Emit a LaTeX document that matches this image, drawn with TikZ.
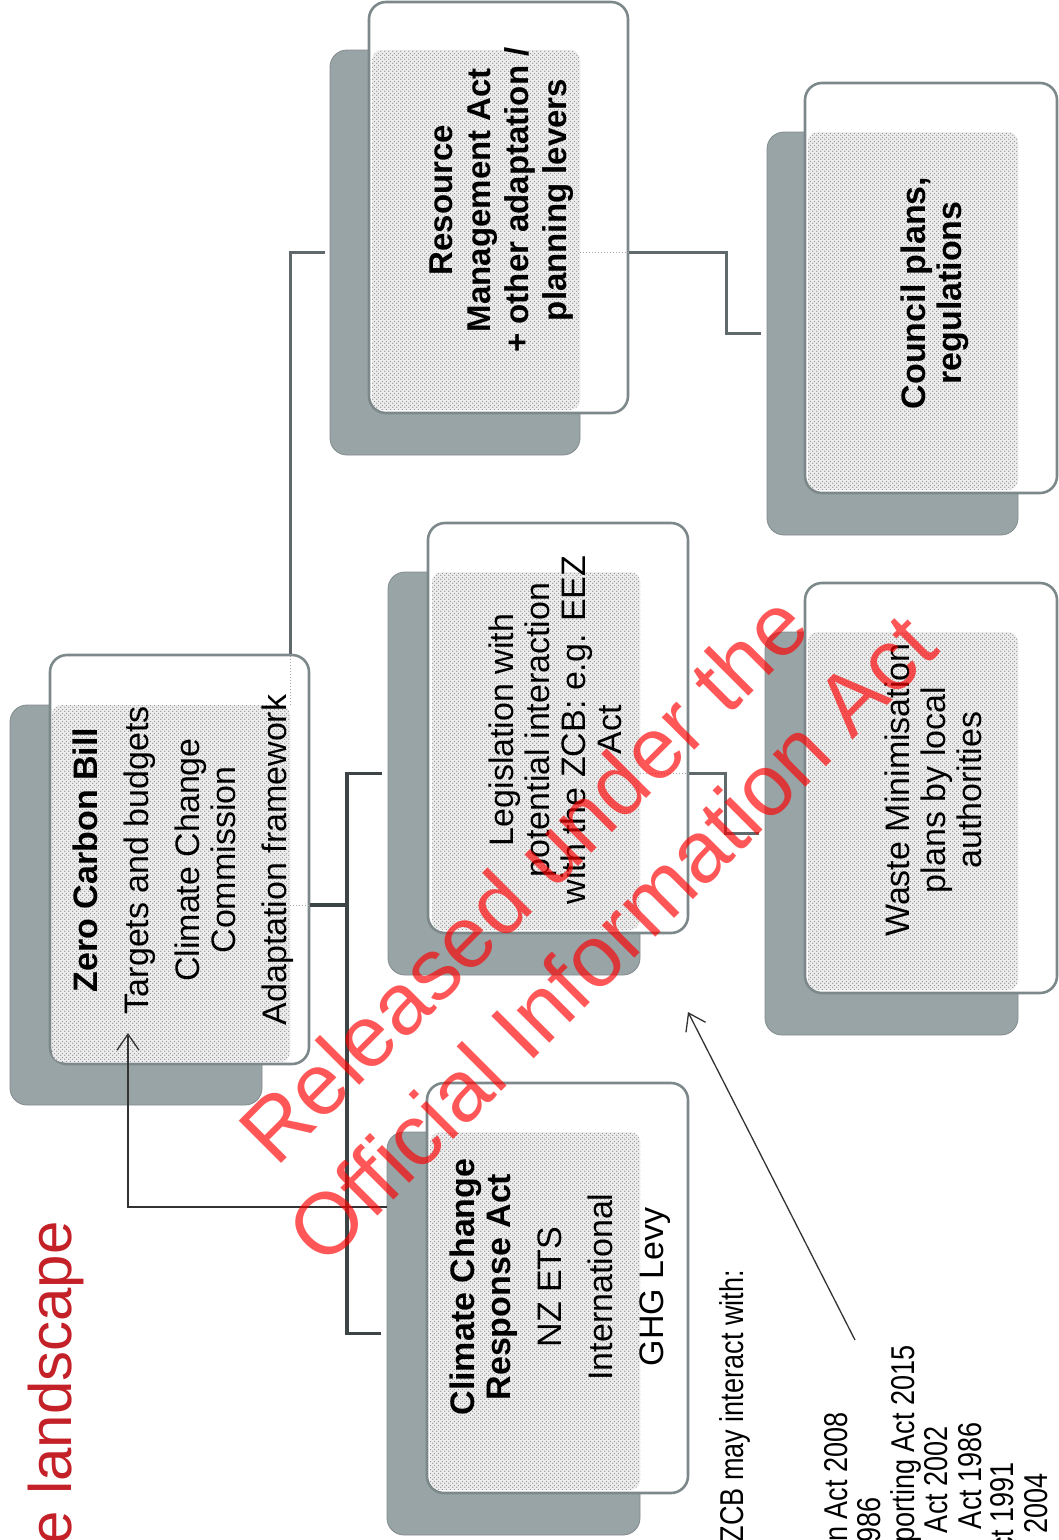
\documentclass[tikz,border=0pt]{standalone}
\usepackage{fontspec}
\setmainfont{Liberation Sans}
\newfontfamily\listfont[FakeStretch=0.82]{Liberation Sans}
\usetikzlibrary{arrows.meta,patterns,calc}
\pgfdeclarepatternformonly{finedots}{\pgfpointorigin}{\pgfqpoint{4pt}{4pt}}{\pgfqpoint{4pt}{4pt}}{%
  \pgfpathcircle{\pgfqpoint{1pt}{1pt}}{0.8pt}%
  \pgfpathcircle{\pgfqpoint{3pt}{3pt}}{0.8pt}%
  \pgfusepath{fill}}
\definecolor{shadowgray}{RGB}{152,164,166}
\definecolor{cardborder}{RGB}{125,136,138}
\definecolor{connGray}{RGB}{95,105,107}
\definecolor{busGray}{RGB}{60,68,70}
\definecolor{titleRed}{RGB}{196,32,40}
\begin{document}
\begin{tikzpicture}[x=1pt,y=-1pt,
  shadowbox/.style={fill=shadowgray, draw=shadowgray!85!black, line width=0.8pt, rounded corners=17pt, inner sep=0pt},
  cardbox/.style={fill=white, draw=cardborder, line width=2.6pt, rounded corners=17pt, inner sep=0pt},
  dotbox/.style={preaction={fill=gray!14}, pattern=finedots, pattern color=gray!90, rounded corners=10pt, inner sep=0pt},
  cardtext/.style={rotate=90, align=center, font=\fontsize{34}{36}\selectfont, text=black, inner sep=0pt},
  listtext/.style={rotate=90, anchor=base east, font=\listfont\fontsize{33}{34}\selectfont, text=black, inner sep=0pt},
  conn/.style={draw=connGray, line width=3pt},
  busline/.style={draw=busGray, line width=3.4pt},
  dotline/.style={draw=gray!70, line width=1pt, dotted},
  thinarrow/.style={draw=black!80, line width=1.3pt, -{Straight Barb[length=16pt,width=22pt]}},
  wm/.style={rotate=45, text=red, text opacity=0.66, font=\fontsize{87}{100}\selectfont, inner sep=0pt, anchor=base}
]
\useasboundingbox (0,0) rectangle (1059,1540);
\clip (0,0) rectangle (1059,1540);
\fill[white] (0,0) rectangle (1059,1540);

% title
\node[anchor=base west, rotate=90, text=titleRed, font=\fontsize{60}{70}\selectfont, inner sep=0pt] (title) at (71,1545) {e landscape};

% shadows
\node[shadowbox, minimum width=252pt, minimum height=400pt] (zcbS) at (136,905) {};
\node[shadowbox, minimum width=253pt, minimum height=403pt] (ccraS) at (513.5,1333.5) {};
\node[shadowbox, minimum width=252pt, minimum height=403pt] (legS) at (514,773.5) {};
\node[shadowbox, minimum width=250pt, minimum height=405pt] (rmaS) at (455,252.5) {};
\node[shadowbox, minimum width=253pt, minimum height=403pt] (wasteS) at (891.5,833.5) {};
\node[shadowbox, minimum width=251pt, minimum height=403pt] (councilS) at (892.5,333.5) {};

% cards
\node[cardbox, minimum width=259pt, minimum height=409pt] (zcb) at (179.5,859.5) {};
\node[cardbox, minimum width=261pt, minimum height=410pt] (ccra) at (557.5,1288) {};
\node[cardbox, minimum width=260pt, minimum height=410pt] (leg) at (558,728) {};
\node[cardbox, minimum width=259pt, minimum height=411pt] (rma) at (498.5,207.5) {};
\node[cardbox, minimum width=252pt, minimum height=410pt] (waste) at (931,788) {};
\node[cardbox, minimum width=252pt, minimum height=410pt] (council) at (931,288) {};

% dotted inner areas
\node[dotbox, minimum width=238pt, minimum height=357pt] (zcbD) at (171,883.5) {};
\node[dotbox, minimum width=210pt, minimum height=358pt] (ccraD) at (535,1311) {};
\node[dotbox, minimum width=208pt, minimum height=358pt] (legD) at (536,751) {};
\node[dotbox, minimum width=208pt, minimum height=360pt] (rmaD) at (476,230) {};
\node[dotbox, minimum width=210pt, minimum height=358pt] (wasteD) at (913,811) {};
\node[dotbox, minimum width=210pt, minimum height=358pt] (councilD) at (913,311) {};

% dotted continuations inside the cards
\draw[dotline] (zcbD.north east) -- (zcb.north -| zcbD.east);
\draw[dotline] (zcbD.east |- zcbS.center) -- (zcb.east |- zcbS.center);
\draw[dotline] (rmaD.east |- rmaS.center) -- (rma.east |- rmaS.center);
\draw[dotline] (legD.east |- legS.center) -- (leg.east |- legS.center);

% texts in cards
\node[cardtext] (zcbT) at (183,860) {\textbf{Zero Carbon Bill}\\[15pt]Targets and budgets\\[15pt]Climate Change\\Commission\\[15pt]Adaptation framework};
\node[cardtext] (ccraT) at (560,1287) {\textbf{Climate Change}\\\textbf{Response Act}\\[15pt]NZ ETS\\[15pt]International\\[15pt]GHG Levy};
\node[cardtext] (legT) at (555,730) {Legislation with\\potential interaction\\with the ZCB: e.g. EEZ\\Act};
\node[cardtext, font=\fontsize{33}{38}\selectfont] (rmaT) at (502,200) {\textbf{Resource}\\\textbf{Management Act}\\\textbf{+ other adaptation /}\\\textbf{planning levers}};
\node[cardtext] (wasteT) at (933,790) {Waste Minimisation\\plans by local\\authorities};
\node[cardtext] (councilT) at (935,293) {\textbf{Council plans,}\\\textbf{regulations}};

% connectors
\coordinate (busX) at (347,0);
\draw[busline] (zcb.east |- zcbS.center) -- (busX |- zcbS.center);
\draw[busline] ([xshift=-6pt]legS.west) -- (busX |- legS.west) -- (busX |- ccraS.west) -- ([xshift=-6pt]ccraS.west);
\draw[conn] (zcb.north -| zcbD.east) -- (zcbD.east |- rmaS.west) -- ([xshift=-5pt]rmaS.west);
\coordinate (jogA) at (726,0);
\draw[conn] (rma.east |- rmaS.center) -- (jogA |- rmaS.center) -- (jogA |- councilS.center) -- ([xshift=-6pt]councilS.west);
\coordinate (jogB) at (725,0);
\draw[conn] (leg.east |- legS.center) -- (jogB |- legS.center) -- (jogB |- wasteS.center) -- ([xshift=-6pt]wasteS.west);

% thin arrows
\coordinate (elbow) at (128,1207);
\coordinate (zcbTip) at (128,1033);
\draw[thinarrow] (ccraS.west |- elbow) -- (elbow) -- (zcbTip);
\coordinate (listFrom) at (855,1340);
\coordinate (legTip) at (688,1012);
\draw[thinarrow] (listFrom) -- (legTip);

% list text at the bottom
\node[listtext] (intro) at (743,1270) {ZCB may interact with:};
\node[listtext] (li1) at (847,1412) {n Act 2008};
\node[listtext] (li2) at (880,1497) {986};
\node[listtext] (li3) at (914,1345) {porting Act 2015};
\node[listtext] (li4) at (947,1426) {Act 2002};
\node[listtext] (li5) at (981,1422) {Act 1986};
\node[listtext] (li6) at (1013,1462) {ct 1991};
\node[listtext] (li7) at (1047,1473) {2004};

% watermark
\node[wm] (wm1) at (545,900) {Released under the};
\node[wm] (wm2) at (633,960) {Official Information Act};
\end{tikzpicture}
\end{document}
